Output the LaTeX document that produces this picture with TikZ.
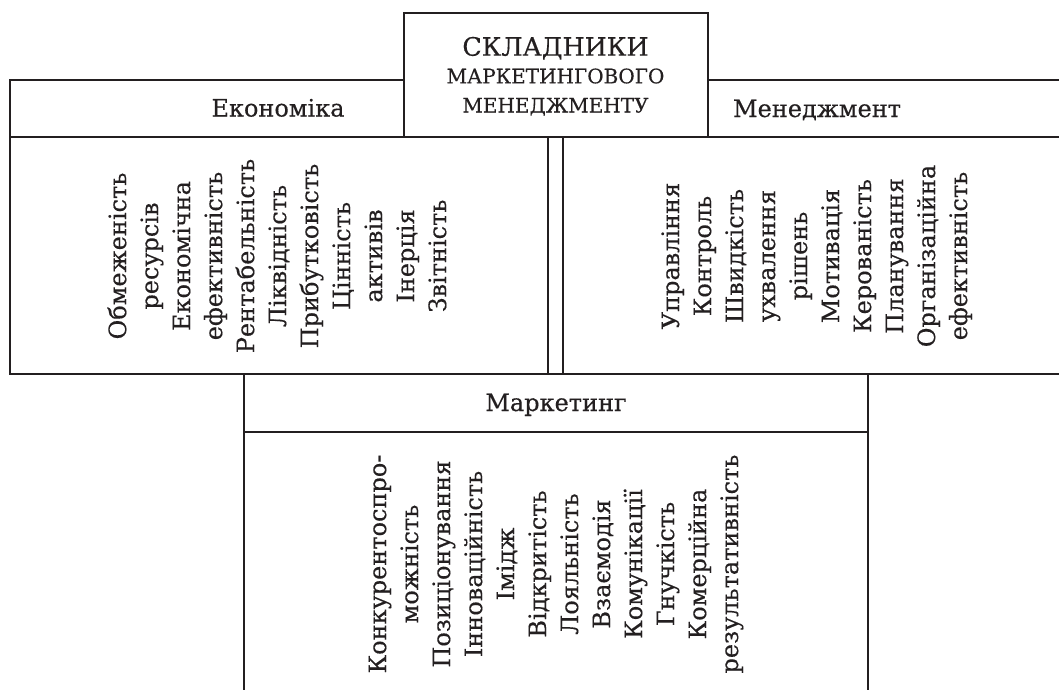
\documentclass[tikz,border=0pt]{standalone}
\usepackage{fontspec}
\setmainfont{DejaVu Serif}[FakeBold=0.35]
\definecolor{ink}{HTML}{231F20}
\tikzset{
  frame/.style={draw=ink, line width=2pt, line cap=rect},
  vtext/.style={rotate=90, align=center, inner sep=0pt, text=ink,
    font=\fontsize{24}{32}\selectfont},
  head/.style={inner sep=0pt, anchor=base, text=ink, font=\fontsize{24}{28}\selectfont},
}
\begin{document}
\begin{tikzpicture}[x=1pt, y=-1pt]
\useasboundingbox (0,0) rectangle (1059,689);
% title box
\node[frame, minimum width=304pt, minimum height=124pt, inner sep=0pt] (title) at (555.5,74.5) {};
\node[inner sep=0pt, anchor=base, text=ink, font=\fontsize{25.4}{28}\selectfont] (t1) at (555.5,55.7) {СКЛАДНИКИ};
\node[inner sep=0pt, anchor=base, text=ink, font=\fontsize{20}{24}\selectfont] (t2) at (555.5,83.3) {МАРКЕТИНГОВОГО};
\node[inner sep=0pt, anchor=base, text=ink, font=\fontsize{20}{24}\selectfont] (t3) at (555.5,112.5) {МЕНЕДЖМЕНТУ};
% coordinates
\coordinate (eTL) at (9.5,80);
\coordinate (eHR) at (title.west |- eTL);
\coordinate (eBL) at (9.5,373.5);
\coordinate (eBR) at (548,373.5);
\coordinate (eTR) at (548,136.5);
\coordinate (mTL) at (title.east |- eTL);
\coordinate (mTR) at (1059,80);
\coordinate (mBL) at (563,136.5);
\coordinate (mBB) at (563,373.5);
\coordinate (mBR) at (1059,373.5);
\coordinate (hL) at (9.5,136.5);
\coordinate (hR) at (1059,136.5);
\coordinate (kTL) at (243.5,373.5);
\coordinate (kTR) at (867.5,373.5);
\coordinate (kHL) at (243.5,431.5);
\coordinate (kHR) at (867.5,431.5);
\coordinate (kBL) at (243.5,689);
\coordinate (kBR) at (867.5,689);
% economics
\draw[frame] (eHR) -- (eTL) -- (eBL) -- (eBR) -- (eTR);
\draw[frame] (hL) -- (hR);
% management
\draw[frame] (mTL) -- (mTR);
\draw[frame] (mBL) -- (mBB) -- (mBR);
% marketing
\draw[frame] (kBL) -- (kTL) -- (kTR) -- (kBR);
\draw[frame] (kHL) -- (kHR);
% headers
\node[head] (econ) at (278,116.5) {Економіка};
\node[head] (mgmt) at (817,117) {Менеджмент};
\node[head] (mark) at (556,411) {Маркетинг};
% vertical lists
\node[vtext] (elist) at (277,256) {Обмеженість\\ ресурсів\\ Економічна\\ ефективність\\ Рентабельність\\ Ліквідність\\ Прибутковість\\ Цінність\\ активів\\ Інерція\\ Звітність};
\node[vtext] (mlist) at (816.7,256) {Управління\\ Контроль\\ Швидкість\\ ухвалення\\ рішень\\ Мотивація\\ Керованість\\ Планування\\ Організаційна\\ ефективність};
\node[vtext] (klist) at (556,564) {Конкурентоспро-\\ можність\\ Позиціонування\\ Інноваційність\\ Імідж\\ Відкритість\\ Лояльність\\ Взаємодія\\ Комунікації\\ Гнучкість\\ Комерційна\\ результативність};
\end{tikzpicture}
\end{document}
